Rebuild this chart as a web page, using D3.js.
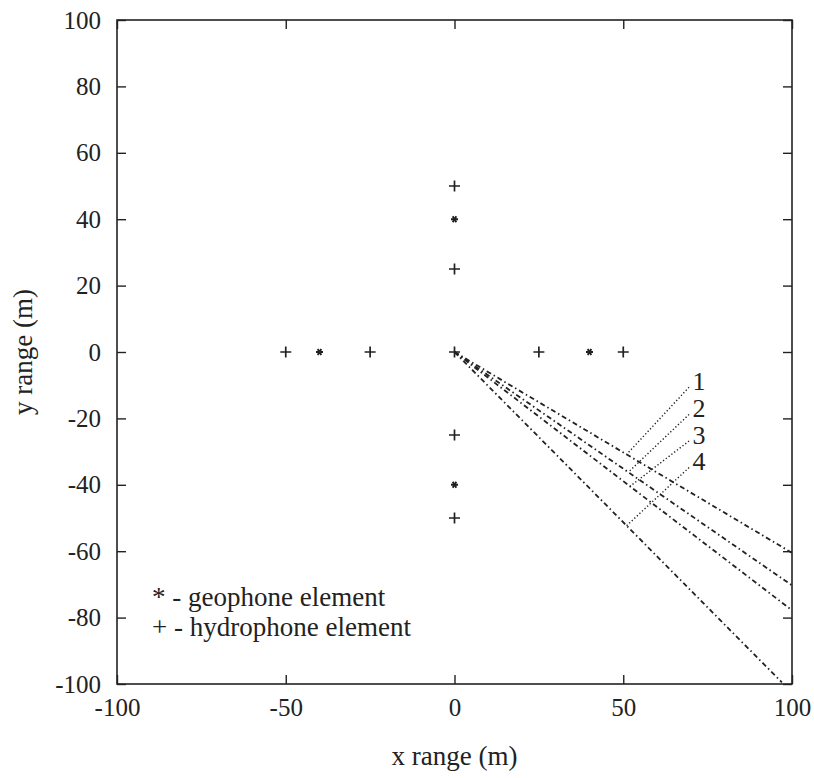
<!DOCTYPE html>
<html>
<head>
<meta charset="utf-8">
<script src="https://cdn.jsdelivr.net/npm/d3@7"></script>
<style>
  body { margin: 0; background: #fff; }
  text { font-family: "Liberation Serif", "Times New Roman", Times, "DejaVu Serif", serif !important; fill: #222; }
</style>
</head>
<body>
<svg id="chart" width="814" height="778"></svg>
<script>
// tick values
const xTicks = [-100, -50, 0, 50, 100];
const yTicks = [-100, -80, -60, -40, -20, 0, 20, 40, 60, 80, 100];

// hydrophone elements (+)
const hydroX = [0, 0, 0, 0, 0, -50, -25, 25, 50];
const hydroY = [50, 25, 0, -25, -50, 0, 0, 0, 0];

// geophone elements (*)
const geoX = [0, 0, -40, 40];
const geoY = [40, -40, 0, 0];

// dash-dot beams from the origin, end points
const beamNames = ["1", "2", "3", "4"];
const beamEndX = [100, 100, 100, 97];
const beamEndY = [-60.5, -70.3, -77.8, -99.5];

// labels and where their dotted leaders hit the beams
const labelX = [70.5, 70.5, 70.5, 70.5];
const labelY = [-9, -17.2, -25.2, -33.2];
const leaderX = [51, 51.5, 52, 51];

const legendItems = ["* - geophone element", "+ - hydrophone element"];

const svg = d3.select("#chart");
const ink = "#222";
const serif = "'Liberation Serif', 'Times New Roman', Times, serif";

// plot box
const boxL = 117, boxR = 792, boxT = 20, boxB = 684;

const x = d3.scaleLinear().domain([-100, 100]).range([boxL, boxR]);
const y = d3.scaleLinear().domain([-100, 100]).range([boxB, boxT]);

// frame
svg.append("rect")
    .attr("x", boxL).attr("y", boxT)
    .attr("width", boxR - boxL).attr("height", boxB - boxT)
    .attr("fill", "none").attr("stroke", ink).attr("stroke-width", 1.6);

// axes with inward ticks
const tickLen = 9;
const axisStyle = g => {
    g.attr("font-family", serif);
    g.select(".domain").remove();
    g.selectAll("line").attr("stroke", ink).attr("stroke-width", 1.4);
    g.selectAll("text").attr("font-size", 25).style("font-family", serif).attr("fill", ink);
};

svg.append("g").attr("transform", `translate(0,${boxB})`)
    .call(d3.axisBottom(x).tickValues(xTicks).tickSizeInner(-tickLen).tickSizeOuter(0).tickPadding(19).tickFormat(d => String(d)))
    .call(axisStyle)
    .call(g => g.selectAll("text").attr("dy", "0.5em"));

svg.append("g").attr("transform", `translate(0,${boxT})`)
    .call(d3.axisTop(x).tickValues(xTicks).tickSizeInner(-tickLen).tickSizeOuter(0).tickFormat(""))
    .call(axisStyle);

svg.append("g").attr("transform", `translate(${boxL},0)`)
    .call(d3.axisLeft(y).tickValues(yTicks).tickSizeInner(-tickLen).tickSizeOuter(0).tickPadding(16).tickFormat(d => String(d)))
    .call(axisStyle);

svg.append("g").attr("transform", `translate(${boxR},0)`)
    .call(d3.axisRight(y).tickValues(yTicks).tickSizeInner(-tickLen).tickSizeOuter(0).tickFormat(""))
    .call(axisStyle);

// axis titles
svg.append("text")
    .attr("x", (boxL + boxR) / 2).attr("y", 765)
    .attr("text-anchor", "middle").attr("font-size", 27)
    .style("font-family", serif)
    .text("x range (m)");

svg.append("text")
    .attr("transform", `translate(32,${y(0)}) rotate(-90)`)
    .attr("text-anchor", "middle").attr("font-size", 27)
    .style("font-family", serif)
    .text("y range (m)");

// beams
const beams = beamNames.map((n, i) => ({ name: n, x2: beamEndX[i], y2: beamEndY[i] }));
svg.append("g").selectAll("line").data(beams).enter().append("line")
    .attr("x1", x(0)).attr("y1", y(0))
    .attr("x2", d => x(d.x2)).attr("y2", d => y(d.y2))
    .attr("stroke", ink).attr("stroke-width", 1.8)
    .attr("stroke-dasharray", "5,3,1.5,3");

// leaders
const leaders = beams.map((b, i) => {
    const t = leaderX[i] / b.x2;
    return { lx: labelX[i] - 1, ly: labelY[i] - 1.6, px: leaderX[i], py: b.y2 * t };
});
svg.append("g").selectAll("line").data(leaders).enter().append("line")
    .attr("x1", d => x(d.lx)).attr("y1", d => y(d.ly))
    .attr("x2", d => x(d.px)).attr("y2", d => y(d.py))
    .attr("stroke", ink).attr("stroke-width", 1.4)
    .attr("stroke-dasharray", "1.3,2.2");

svg.append("g").selectAll("text").data(beamNames).enter().append("text")
    .attr("x", (d, i) => x(labelX[i]))
    .attr("y", (d, i) => y(labelY[i]) + 8)
    .attr("font-size", 26)
    .style("font-family", serif)
    .text(d => d);

// hydrophone markers
svg.append("g").selectAll("path").data(hydroX).enter().append("path")
    .attr("transform", (d, i) => `translate(${x(d)},${y(hydroY[i])})`)
    .attr("d", "M-5.5,0H5.5M0,-5.5V5.5")
    .attr("stroke", ink).attr("stroke-width", 1.7);

// geophone markers
svg.append("g").selectAll("path").data(geoX).enter().append("path")
    .attr("transform", (d, i) => `translate(${x(d)},${y(geoY[i])})`)
    .attr("d", "M-3.5,0H3.5M-1.8,-3L1.8,3M-1.8,3L1.8,-3")
    .attr("stroke", ink).attr("stroke-width", 1.9);

// legend
svg.append("g").selectAll("text").data(legendItems).enter().append("text")
    .attr("x", 152).attr("y", (d, i) => 606 + i * 30)
    .attr("font-size", 27)
    .style("font-family", serif)
    .text(d => d);
</script>
</body>
</html>
